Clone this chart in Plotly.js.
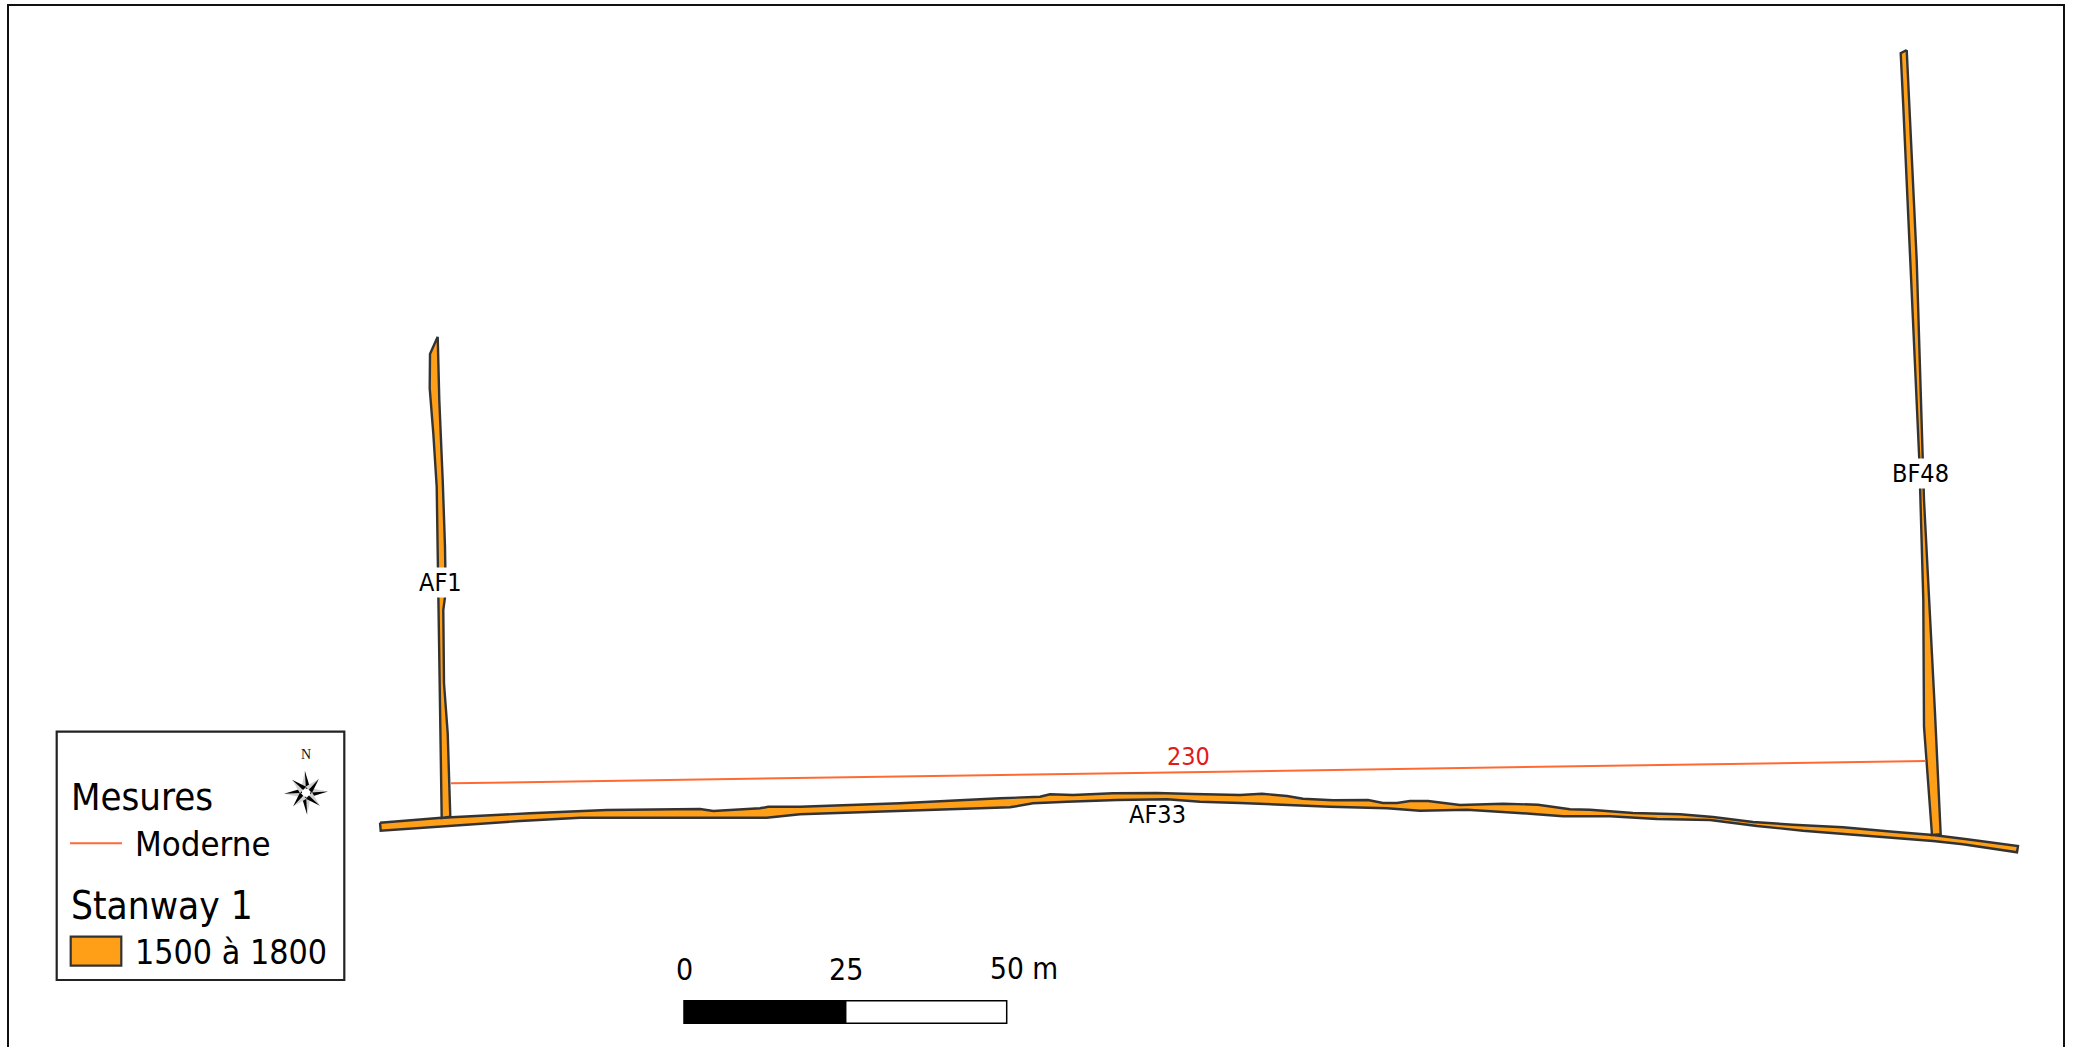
<!DOCTYPE html>
<html>
<head>
<meta charset="utf-8">
<script src="https://cdn.plot.ly/plotly-3.0.1.min.js"></script>
<style>html,body{margin:0;padding:0;background:#fff}#map{width:2074px;height:1047px}</style>
</head>
<body>
<div id="map"></div>
<script>
// Map geometry (plot units = pixels of the sheet)
const af33TopX = [380,441.7,530,576.7,606.7,700,713.3,760,768.3,800,900,1000,1040,1050,1073,1113,1157,1193,1240,1262,1287,1303,1333,1368,1383,1397,1410,1428,1460,1503,1538,1570,1590,1633,1680,1713,1753,1793,1843,1893,1933,1967,2018];
const af33TopY = [822.7,817.7,813.3,811.3,810,809,811,808.3,806.7,806.7,803.3,798.3,796.7,794.3,795,793.3,793,794,795,793.7,796,798.7,800.3,800,803,803,801,801,805,803.7,804.7,809.3,809.7,813,814.3,817,822,824.7,827.3,831.7,835,839.3,846];
const af33BottomX = [380.7,443,520,580,766.7,800,900,1010,1033,1067,1117,1167,1200,1240,1330,1387,1420,1467,1530,1563,1610,1657,1710,1757,1803,1877,1933,1963,2017];
const af33BottomY = [830.7,826.7,821,817.7,817.7,814.3,811.3,807.3,803.3,801.7,800,799.3,801.7,803,806.7,808.3,810.7,809.7,813.7,816.3,816.3,819,820,826,830.7,836.7,841,844.3,852.3];

const af1LeftX = [437.7,430,429.7,433.3,436.7,437.3,437.7,439.3,441.7];
const af1LeftY = [336.7,354,388.3,433.3,486.7,526.7,596.7,686.7,818];
const af1RightX = [450.3,447.7,444,443.3,445.7,445,442.7,439.3];
const af1RightY = [816.7,733.3,683.3,610,591.7,546.7,480,400];

const bf48LeftX = [1906.7,1900.7,1903.3,1911.7,1919.3,1923.3,1924,1932];
const bf48LeftY = [50,53.3,106.7,290,460,600,726.7,835];
const bf48RightX = [1940.7,1935,1924,1916.7,1910.7];
const bf48RightY = [834.3,713,500,260,130];

const modernX = [451,1925.7];
const modernY = [783.3,761];

const frameX = [8,8,2064,2064];
const frameY = [1047,5,5,1047];

const parcelNames = ['AF1','BF48','AF33'];
const parcelLabelX = [440,1920,1157];
const parcelLabelY = [582,473,814];
const measureLabel = '230';

const legendTitles = ['Mesures','Stanway 1'];
const legendItems = ['Moderne','1500 à 1800'];
const scaleLabels = ['0','25','50 m'];

// Compass: ray angle (degrees) and length
const rayAngles = [93,3,273,183,47,317,227,137];
const rayLengths = [22,22,22,22,19,19,19,19];

const FONT = '"DejaVu Sans Condensed","DejaVu Sans",sans-serif';
const OUT = '#333333', FILL = '#ff9e17', LINE = '#ff6a33';

function poly(xa, ya, xb, yb){
  return {type:'scatter',mode:'lines',x:[...xa,...xb,xa[0]],y:[...ya,...yb,ya[0]],
    fill:'toself',fillcolor:FILL,line:{color:OUT,width:2.4},hoverinfo:'skip',showlegend:false};
}
const traces = [
  poly(af33TopX, af33TopY, af33BottomX.slice().reverse(), af33BottomY.slice().reverse()),
  poly(af1LeftX, af1LeftY, af1RightX, af1RightY),
  poly(bf48LeftX, bf48LeftY, bf48RightX, bf48RightY),
  {type:'scatter',mode:'lines',x:modernX,y:modernY,line:{color:LINE,width:2},hoverinfo:'skip',showlegend:false},
  {type:'scatter',mode:'lines',x:frameX,y:frameY,line:{color:'#111',width:2},hoverinfo:'skip',showlegend:false},
  {type:'scatter',mode:'lines',x:[70,122],y:[843.3,843.3],line:{color:LINE,width:2},hoverinfo:'skip',showlegend:false}
];

// compass star
const cx = 306, cy = 792.7;
rayAngles.forEach((a,i)=>{
  const t = a*Math.PI/180, l = rayLengths[i], w = 4.5;
  const tipX = cx+l*Math.cos(t), tipY = cy-l*Math.sin(t);
  const sx = -Math.sin(t)*w, sy = -Math.cos(t)*w;
  const bx = cx+4*Math.cos(t), by = cy-4*Math.sin(t);
  traces.push({type:'scatter',mode:'lines',x:[bx,tipX,bx+sx,bx],y:[by,tipY,by+sy,by],fill:'toself',fillcolor:'#d0d0d0',line:{width:0,color:'#d0d0d0'},hoverinfo:'skip',showlegend:false});
  traces.push({type:'scatter',mode:'lines',x:[bx,tipX,bx-sx,bx],y:[by,tipY,by-sy,by],fill:'toself',fillcolor:'#000',line:{width:0,color:'#000'},hoverinfo:'skip',showlegend:false});
});

const HALO = '0 0 2px #fff, 0 0 2px #fff, 0 0 3px #fff, 1px 1px 2px #fff, -1px -1px 2px #fff, 1px -1px 2px #fff, -1px 1px 2px #fff';
function txt(text,x,y,size,anchor,color,extra){
  return Object.assign({text,x,y,xref:'x',yref:'y',showarrow:false,xanchor:anchor,yanchor:'middle',
    font:{family:FONT,size,color:color||'#000'},borderpad:0},extra||{});
}
const annotations = [
  txt(legendTitles[0],70,797,38,'left'),
  txt(legendItems[0],134,844,34.5,'left'),
  txt(legendTitles[1],70,905,38.5,'left'),
  txt(legendItems[1],134,952,33.7,'left'),
  txt('N',306.3,754.3,14,'center','#111',{font:{family:'"Liberation Serif",serif',size:14,color:'#111'}}),
  txt(scaleLabels[0],684,969,30,'center'),
  txt(scaleLabels[1],845.7,969,30,'center'),
  txt(scaleLabels[2],989,969,29.5,'left'),
  txt(measureLabel,1188,756.5,25,'center','#e31a1c')
];
parcelNames.forEach((n,i)=>{
  const a = {text:n,x:parcelLabelX[i],y:parcelLabelY[i],xref:'x',yref:'y',showarrow:false,xanchor:'center',yanchor:'middle',borderpad:0,
    font:{family:FONT,size:25,color:'#000',shadow:HALO}};
  if (i < 2) a.bgcolor = '#fff';
  annotations.push(a);
});

const shapes = [
  {type:'rect',xref:'x',yref:'y',x0:56.7,x1:344.3,y0:731.7,y1:980,line:{color:'#222',width:2.2},fillcolor:'rgba(255,255,255,0)',layer:'below'},
  {type:'rect',xref:'x',yref:'y',x0:70.7,x1:121.3,y0:936.7,y1:965.7,line:{color:OUT,width:2.2},fillcolor:FILL},
  {type:'rect',xref:'x',yref:'y',x0:684,x1:845.7,y0:1000.7,y1:1023.3,line:{color:'#000',width:1.5},fillcolor:'#000'},
  {type:'rect',xref:'x',yref:'y',x0:845.7,x1:1006.7,y0:1000.7,y1:1023.3,line:{color:'#000',width:1.5},fillcolor:'#fff'}
];

Plotly.newPlot('map',traces,{
  width:2074,height:1047,margin:{l:0,r:0,t:0,b:0},paper_bgcolor:'#fff',plot_bgcolor:'#fff',showlegend:false,
  xaxis:{range:[0,2074],visible:false,fixedrange:true},
  yaxis:{range:[1047,0],visible:false,fixedrange:true},
  annotations,shapes
},{displayModeBar:false,staticPlot:true});
</script>
</body>
</html>
